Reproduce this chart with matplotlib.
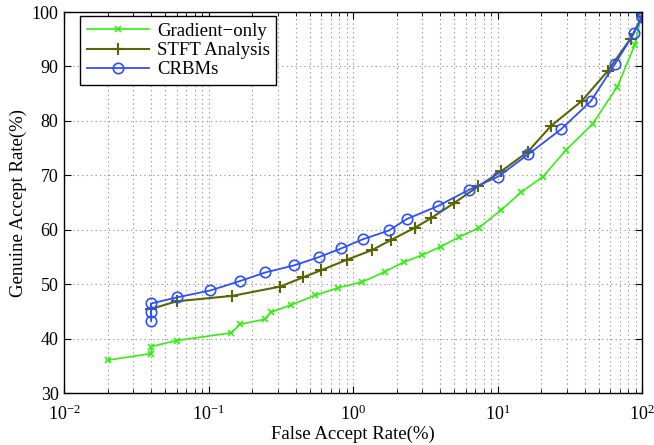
import matplotlib
matplotlib.use("Agg")
import matplotlib.pyplot as plt
from matplotlib.ticker import LogLocator, NullFormatter, MultipleLocator

plt.rcParams['font.family'] = ['Liberation Serif', 'DejaVu Serif']
plt.rcParams['mathtext.fontset'] = 'custom'
plt.rcParams['mathtext.rm'] = 'Liberation Serif'
plt.rcParams['mathtext.it'] = 'Liberation Serif:italic'
plt.rcParams['mathtext.bf'] = 'Liberation Serif:bold'

grad_x = [0.02, 0.04, 0.04, 0.06, 0.143, 0.166, 0.245, 0.27, 0.37, 0.545, 0.79, 1.155,
          1.65, 2.24, 2.98, 4.04, 5.42, 7.41, 10.5, 14.5, 20.6, 29.8, 45.5, 67.3, 89, 97.9, 100]
grad_y = [36.1, 37.3, 38.6, 39.7, 41.1, 42.7, 43.6, 44.9, 46.2, 48.0, 49.4, 50.45,
          52.3, 54.1, 55.35, 56.95, 58.7, 60.4, 63.6, 66.9, 69.8, 74.7, 79.5, 86.3, 94.0, 99.0, 100]

stft_x = [0.04, 0.06, 0.146, 0.313, 0.45, 0.6, 0.9, 1.35, 1.84, 2.67, 3.43, 4.97, 7.34,
          10.6, 16.1, 23.4, 38.3, 57.8, 83, 99, 100]
stft_y = [45.5, 46.9, 47.9, 49.6, 51.3, 52.6, 54.5, 56.3, 58.2, 60.4, 62.1, 64.9, 68.0,
          70.8, 74.3, 79.1, 83.7, 89.2, 95.1, 99.0, 100]

crbm_x = [0.04, 0.04, 0.04, 0.06, 0.103, 0.164, 0.247, 0.391, 0.578, 0.826, 1.17, 1.77,
          2.35, 3.87, 6.36, 10.1, 16.3, 27.5, 44, 64.6, 87.6, 99, 100]
crbm_y = [43.3, 44.9, 46.5, 47.6, 48.9, 50.6, 52.2, 53.5, 55.0, 56.6, 58.3, 59.9,
          62.0, 64.4, 67.4, 69.8, 73.9, 78.5, 83.6, 90.4, 96.1, 99.0, 100]

labels = ['Gradient\u2212only', 'STFT Analysis', 'CRBMs']
xlabel = 'False Accept Rate(%)'
ylabel = 'Genuine Accept Rate(%)'

fig = plt.figure(figsize=(6.54, 4.45), dpi=100)
ax = fig.add_axes([0.098, 0.116, 0.884, 0.857])

ax.plot(grad_x, grad_y, color='#33ee11', marker='x', markersize=5, markeredgewidth=1.2,
        linewidth=1.2, label=labels[0])
ax.plot(stft_x, stft_y, color='#5a6605', marker='+', markersize=8, markeredgewidth=1.5,
        linewidth=1.5, label=labels[1])
ax.plot(crbm_x, crbm_y, color='#2d4fff', marker='o', markersize=7.5, markerfacecolor='none',
        markeredgewidth=1.2, linewidth=1.3, label=labels[2])

ax.set_xscale('log')
ax.set_xlim(0.01, 100)
ax.set_ylim(30, 100)
ax.xaxis.set_major_locator(LogLocator(base=10, numticks=10))
ax.xaxis.set_minor_locator(LogLocator(base=10, subs=range(2, 10), numticks=20))
ax.xaxis.set_minor_formatter(NullFormatter())
ax.yaxis.set_major_locator(MultipleLocator(10))

ax.grid(True, which='major', axis='both', linestyle=(0, (1, 3)), color='#888888', linewidth=0.8)
ax.grid(True, which='minor', axis='x', linestyle=(0, (1, 3)), color='#888888', linewidth=0.8)

ax.tick_params(which='both', direction='in', top=True, right=True, labelsize=13, pad=4)
ax.tick_params(axis='x', which='major', pad=8, labelsize=13)
ax.tick_params(which='major', length=5)
ax.tick_params(which='minor', length=3)
for s in ax.spines.values():
    s.set_linewidth(1.0)

ax.set_xlabel(xlabel, fontsize=13.5, labelpad=1)
ax.set_ylabel(ylabel, fontsize=13.5, labelpad=3)

leg = ax.legend(loc='upper left', bbox_to_anchor=(0.0277, 0.9895), fontsize=13.5,
                fancybox=False, edgecolor='black', framealpha=1, handlelength=3.3,
                borderpad=0.35, labelspacing=0.12, borderaxespad=0.0, handletextpad=0.45)
leg.get_frame().set_linewidth(1.0)

fig.savefig('out.png', dpi=100)
